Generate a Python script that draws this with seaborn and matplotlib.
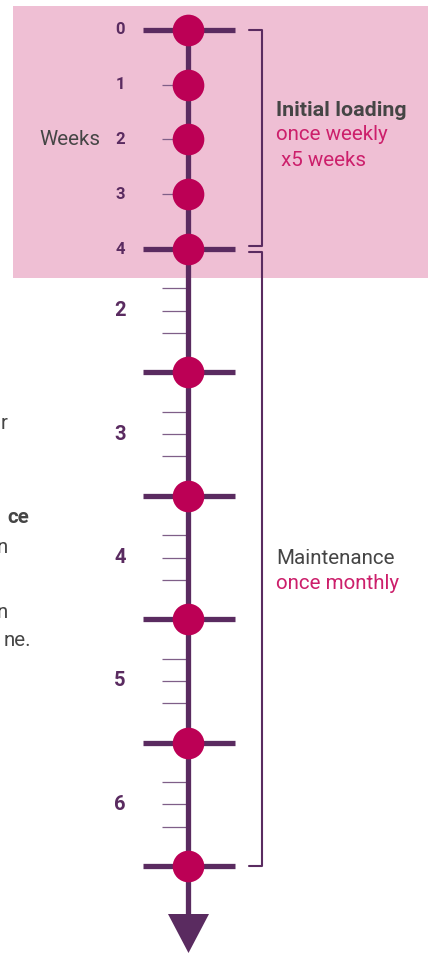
import matplotlib
matplotlib.use('Agg')
import matplotlib.pyplot as plt
import seaborn as sns
import numpy as np
import pandas as pd
from matplotlib.patches import Rectangle, Polygon

# Datos del esquema de dosificacion
week_labels = ['0', '1', '2', '3', '4']
week_values = [0, 1, 2, 3, 4]
week_minor = [1, 2, 3]
month_labels = ['2', '3', '4', '5', '6']
month_doses = [1, 2, 3, 4, 5, 6]
month_minor = [0.32, 0.5, 0.68]

# Colores
PURPLE = '#5a2b60'
TICK = '#7f5f88'
DOSE = '#bc0055'
PINK_BG = '#efbfd4'
GREY = '#454545'
MAGENTA = '#cc1f6b'

# Escala vertical (pixeles desde arriba)
Y0, WEEK_PX = 30, 54.75
M0, MONTH_PX = 249, 123.4
XC = 188
FS = 14.8


def y_week(w):
    return Y0 + WEEK_PX * np.asarray(w, dtype=float)


def y_month(m):
    return M0 + MONTH_PX * (np.asarray(m, dtype=float) - 1)


sns.set_theme(style="white")
plt.rcParams['font.family'] = ['Roboto', 'DejaVu Sans']

fig = plt.figure(figsize=(4.28, 9.55), dpi=100)
ax = fig.add_axes([0, 0, 1, 1])

# Fondo rosa de la fase inicial
ax.add_patch(Rectangle((13, 6), 415, 272, color=PINK_BG, lw=0, zorder=0))

# Eje temporal
ax.vlines(XC, y_week(0), 920, color=PURPLE, lw=3.8, zorder=2)
ax.add_patch(Polygon([[168, 914], [209, 914], [188.5, 953]], closed=True,
                     color=PURPLE, lw=0, zorder=2))

# Marcas pequenas
ax.hlines(y_week(week_minor), 162, XC, color=TICK, lw=0.9, zorder=1)
minor_y = np.concatenate([y_month(np.array(month_doses[:-1]) + f) for f in month_minor])
ax.hlines(minor_y, 162, XC, color=TICK, lw=0.9, zorder=1)

# Barras largas en las dosis principales
long_y = np.concatenate([y_week([week_values[0], week_values[-1]]), y_month(month_doses[1:])])
ax.hlines(long_y, 143, 235, color=PURPLE, lw=3.8, zorder=2)

# Dosis
dose_df = pd.DataFrame({
    'x': XC,
    'y': np.concatenate([y_week(week_values), y_month(month_doses[1:])]),
})
sns.scatterplot(data=dose_df, x='x', y='y', ax=ax, s=520, color=DOSE,
                linewidth=0, zorder=3, legend=False)
ax.set_xlim(0, 428)
ax.set_ylim(955, 0)
ax.axis('off')

# Etiquetas de semanas y meses
for lab, w in zip(week_labels, week_values):
    ax.text(120, y_week(w), lab, ha='center', va='center', fontsize=12,
            fontweight='bold', color=PURPLE)
for lab, m in zip(month_labels, month_doses[:-1]):
    ax.text(120, y_month(m + 0.5), lab, ha='center', va='center', fontsize=14.5,
            fontweight='bold', color=PURPLE)
ax.text(70, y_week(2), 'Weeks', ha='center', va='center', fontsize=FS, color=GREY)

# Corchetes
bw = 1.5
ax.plot([249, 262, 262, 249], [y_week(0), y_week(0), 246, 246], color=PURPLE, lw=bw)
ax.plot([249, 262, 262, 249], [252, 252, y_month(6), y_month(6)], color=PURPLE, lw=bw)

ax.text(276, 110, 'Initial loading', ha='left', va='center', fontsize=FS + 0.6,
        fontweight='bold', color=GREY)
ax.text(276, 135, 'once weekly', ha='left', va='center', fontsize=FS, color=MAGENTA)
ax.text(276, 160, ' x5 weeks', ha='left', va='center', fontsize=FS, color=MAGENTA)
ax.text(276, 558, 'Maintenance', ha='left', va='center', fontsize=FS, color=GREY)
ax.text(276, 583, 'once monthly', ha='left', va='center', fontsize=FS, color=MAGENTA)

# Texto recortado a la izquierda
ax.text(8, 423, 'r', ha='right', va='center', fontsize=FS, color=GREY)
ax.text(29, 517, 'ce', ha='right', va='center', fontsize=FS, fontweight='bold', color=GREY)
ax.text(8, 547, 'n', ha='right', va='center', fontsize=FS, color=GREY)
ax.text(8, 612, 'n', ha='right', va='center', fontsize=FS, color=GREY)
ax.text(31, 640, 'ne.', ha='right', va='center', fontsize=FS, color=GREY)

plt.savefig('out.png', dpi=100)
